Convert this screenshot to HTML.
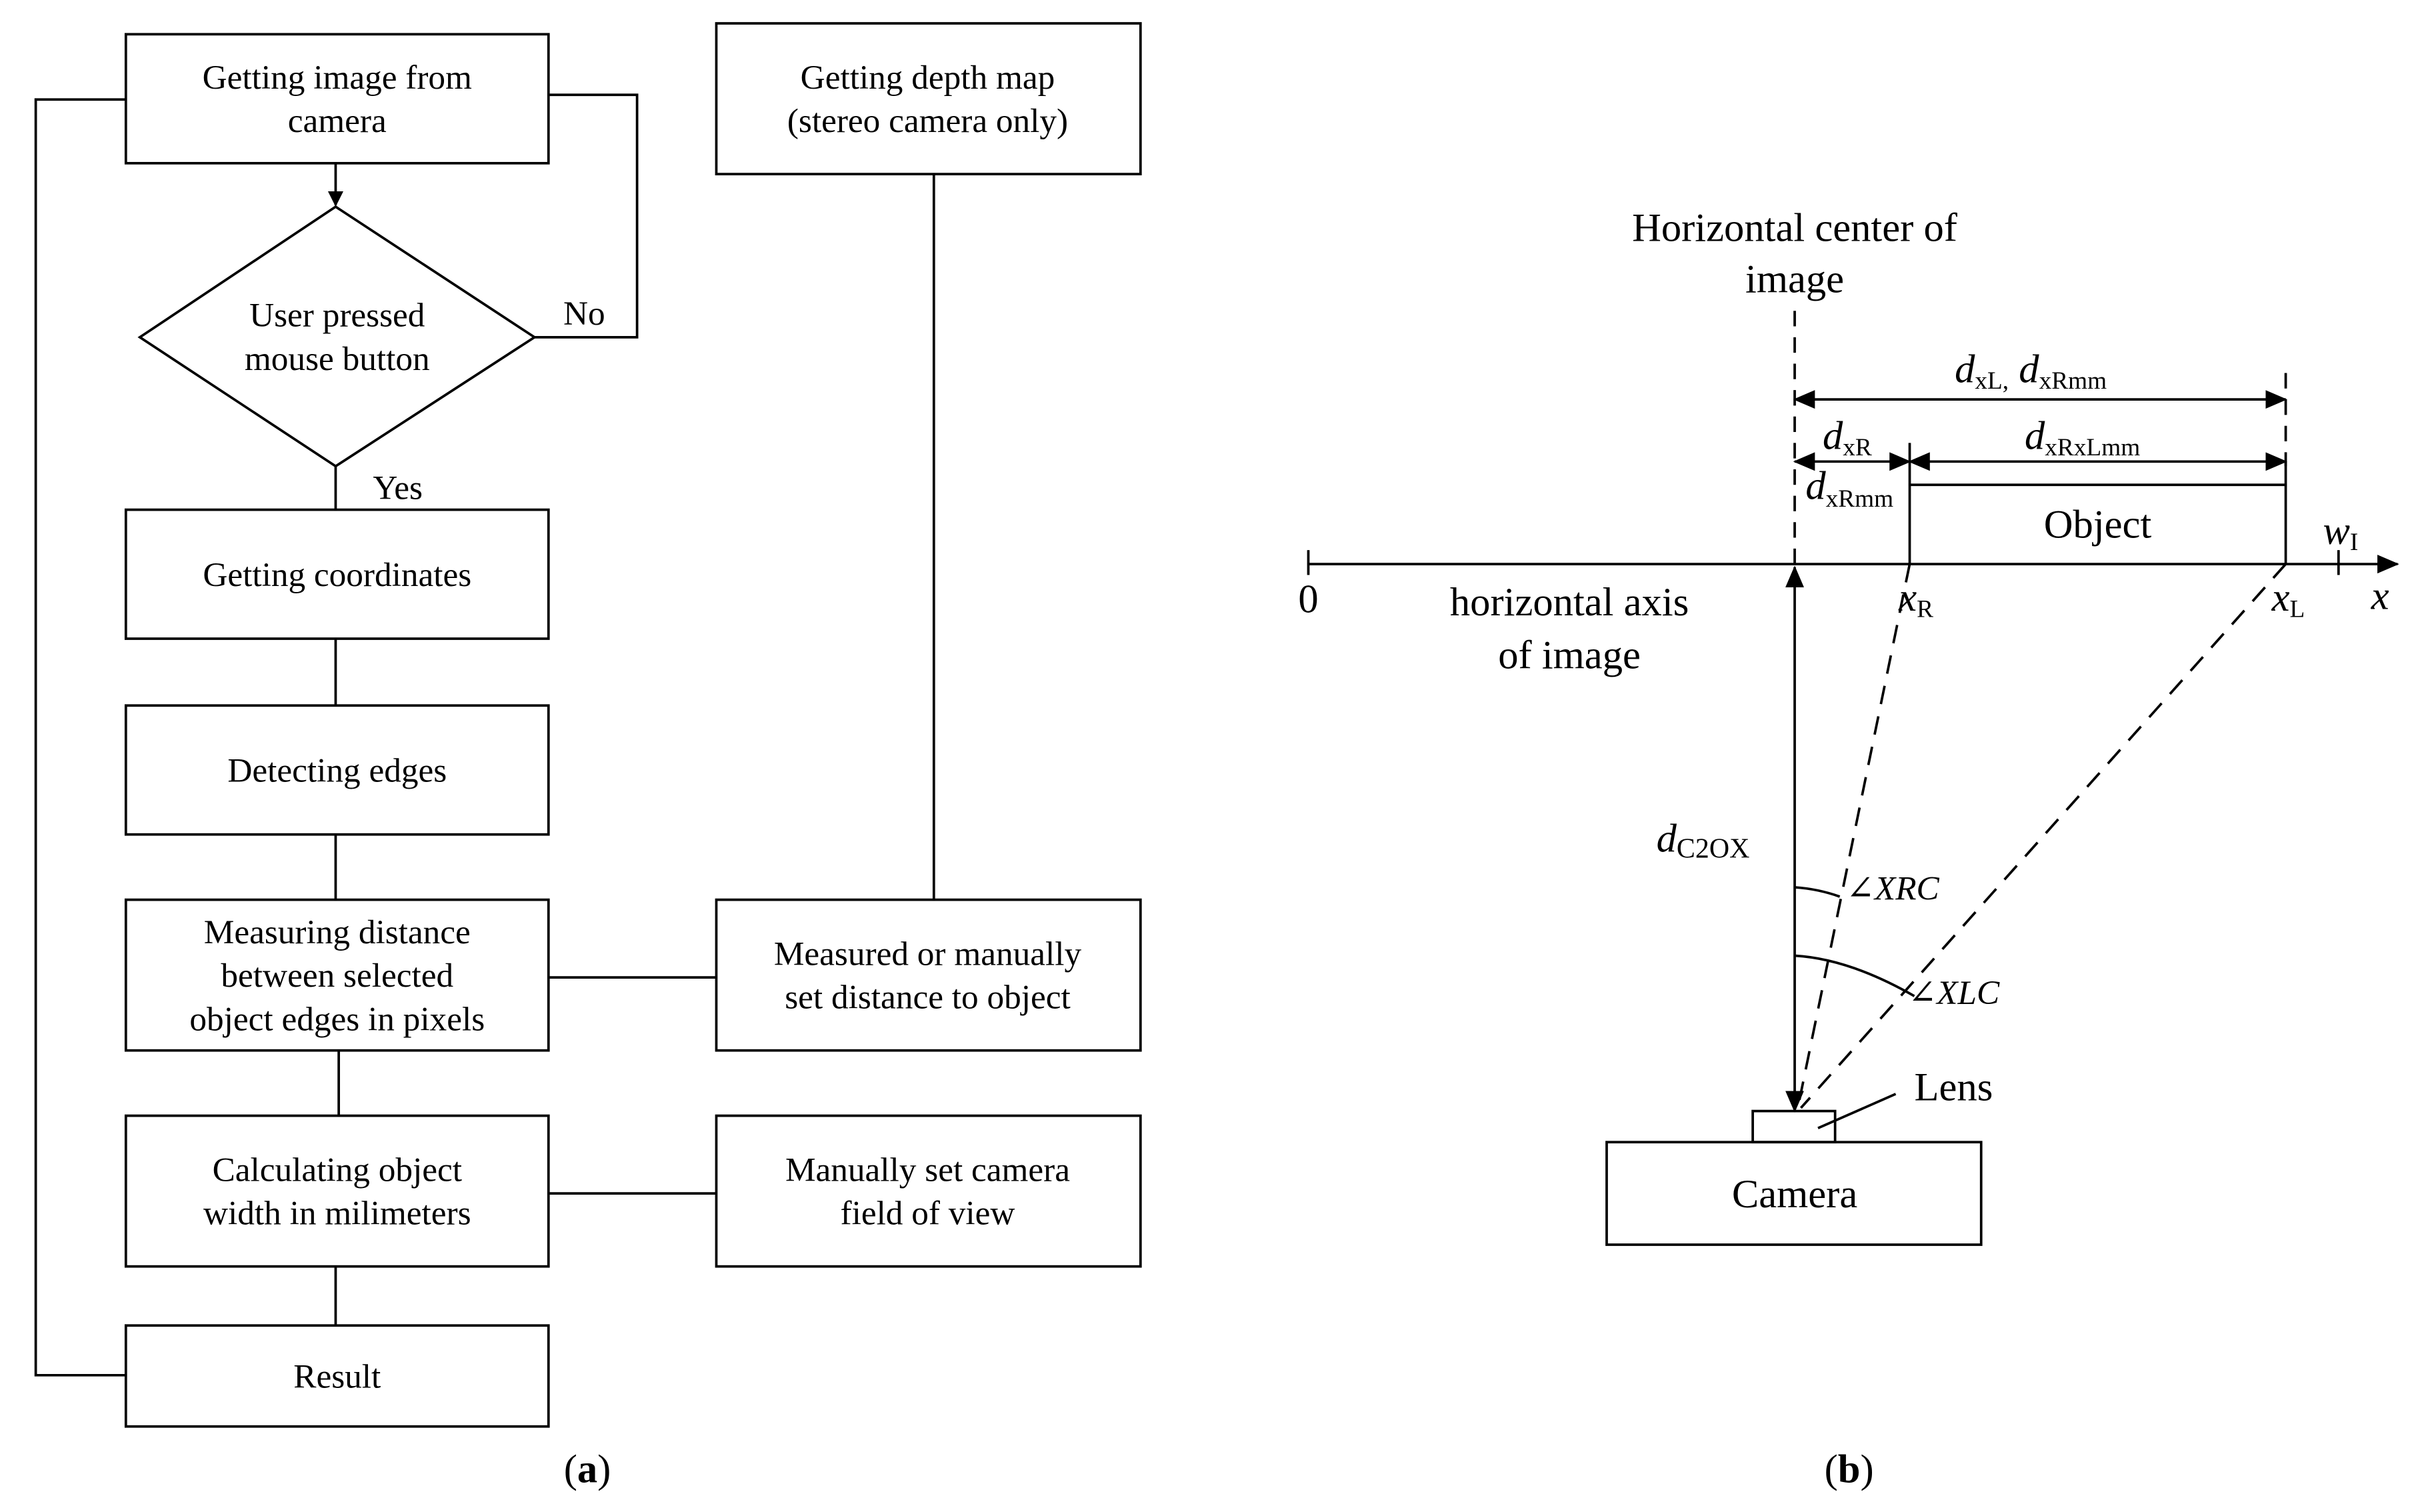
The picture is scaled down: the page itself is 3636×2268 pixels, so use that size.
<!DOCTYPE html>
<html><head><style>html,body{margin:0;padding:0;background:#fff}svg{display:block}svg text{font-family:"Liberation Serif","DejaVu Serif",serif}</style></head>
<body>
<svg width="3636" height="2268" viewBox="0 0 1560 973" xmlns="http://www.w3.org/2000/svg" style="font-family:'Liberation Serif',serif">
<defs>
<marker id="ah" markerWidth="10" markerHeight="10" refX="9" refY="5" orient="auto" markerUnits="userSpaceOnUse"><path d="M0,0 L10,5 L0,10 z" fill="#000"/></marker>
<marker id="ah2" markerWidth="14" markerHeight="12" refX="13" refY="6" orient="auto-start-reverse" markerUnits="userSpaceOnUse"><path d="M0,0 L14,6 L0,12 z" fill="#000"/></marker>
</defs>
<g fill="none" stroke="#000" stroke-width="1.6">
<rect x="81" y="22" width="272" height="83"/>
<rect x="461" y="15" width="273" height="97"/>
<polygon points="216,133 344,217 216,300 90,217"/>
<rect x="81" y="328" width="272" height="83"/>
<rect x="81" y="454" width="272" height="83"/>
<rect x="81" y="579" width="272" height="97"/>
<rect x="81" y="718" width="272" height="97"/>
<rect x="81" y="853" width="272" height="65"/>
<rect x="461" y="579" width="273" height="97"/>
<rect x="461" y="718" width="273" height="97"/>
<line x1="216" y1="105" x2="216" y2="132" marker-end="url(#ah)"/>
<polyline points="344,217 410,217 410,61 353,61"/>
<polyline points="81,64 23,64 23,885 81,885"/>
<line x1="216" y1="300" x2="216" y2="328"/>
<line x1="216" y1="411" x2="216" y2="454"/>
<line x1="216" y1="537" x2="216" y2="579"/>
<line x1="218" y1="676" x2="218" y2="718"/>
<line x1="216" y1="815" x2="216" y2="853"/>
<line x1="601" y1="112" x2="601" y2="579"/>
<line x1="353" y1="629" x2="461" y2="629"/>
<line x1="353" y1="768" x2="461" y2="768"/>
</g>
<g font-size="22" text-anchor="middle" fill="#000">
<text x="217" y="57">Getting image from</text><text x="217" y="85">camera</text>
<text x="597" y="57">Getting depth map</text><text x="597" y="85">(stereo camera only)</text>
<text x="217" y="210">User pressed</text><text x="217" y="238">mouse button</text>
<text x="376" y="209">No</text><text x="256" y="321">Yes</text>
<text x="217" y="377">Getting coordinates</text>
<text x="217" y="503">Detecting edges</text>
<text x="217" y="607">Measuring distance</text><text x="217" y="635">between selected</text><text x="217" y="663">object edges in pixels</text>
<text x="597" y="621">Measured or manually</text><text x="597" y="649">set distance to object</text>
<text x="217" y="760">Calculating object</text><text x="217" y="788">width in milimeters</text>
<text x="597" y="760">Manually set camera</text><text x="597" y="788">field of view</text>
<text x="217" y="893">Result</text>
<text x="378" y="954" font-size="26">(<tspan font-weight="bold">a</tspan>)</text>
<text x="1190" y="954" font-size="26">(<tspan font-weight="bold">b</tspan>)</text>
</g>
<g fill="none" stroke="#000" stroke-width="1.6">
<line x1="842" y1="363" x2="1543" y2="363" marker-end="url(#ah2)"/>
<line x1="842" y1="354" x2="842" y2="370"/>
<line x1="1505" y1="354" x2="1505" y2="370"/>
<line x1="1155" y1="200" x2="1155" y2="363" stroke-dasharray="10,7"/>
<line x1="1471" y1="240" x2="1471" y2="300" stroke-dasharray="10,7"/>
<line x1="1155" y1="257" x2="1471" y2="257" marker-start="url(#ah2)" marker-end="url(#ah2)"/>
<line x1="1155" y1="297" x2="1229" y2="297" marker-start="url(#ah2)" marker-end="url(#ah2)"/>
<line x1="1229" y1="297" x2="1471" y2="297" marker-start="url(#ah2)" marker-end="url(#ah2)"/>
<line x1="1229" y1="285" x2="1229" y2="363"/>
<line x1="1471" y1="297" x2="1471" y2="363"/>
<line x1="1229" y1="312" x2="1471" y2="312"/>
<line x1="1155" y1="365" x2="1155" y2="715" marker-start="url(#ah2)" marker-end="url(#ah2)"/>
<line x1="1229" y1="363" x2="1157" y2="713" stroke-dasharray="12,8"/>
<line x1="1471" y1="363" x2="1159" y2="713" stroke-dasharray="12,8"/>
<path d="M1155,571 Q1170,572 1184,577"/>
<path d="M1155,615 Q1190,617 1232,641"/>
<rect x="1128" y="715" width="53" height="20"/>
<rect x="1034" y="735" width="241" height="66"/>
<line x1="1170" y1="726" x2="1220" y2="704"/>
</g>
<g fill="#000" font-size="26">
<text x="1155" y="155" text-anchor="middle">Horizontal center of</text>
<text x="1155" y="188" text-anchor="middle">image</text>
<text x="842" y="394" text-anchor="middle">0</text>
<text x="1010" y="396" text-anchor="middle">horizontal axis</text>
<text x="1010" y="430" text-anchor="middle">of image</text>
<text x="1350" y="346" text-anchor="middle">Object</text>
<text x="1155" y="777" text-anchor="middle">Camera</text>
<text x="1232" y="708">Lens</text>
<text x="1258" y="246" font-style="italic">d<tspan font-size="16" font-style="normal" dy="4">xL,</tspan><tspan dy="-4"> d</tspan><tspan font-size="16" font-style="normal" dy="4">xRmm</tspan></text>
<text x="1173" y="289" font-style="italic">d<tspan font-size="16" font-style="normal" dy="4">xR</tspan></text>
<text x="1303" y="289" font-style="italic">d<tspan font-size="16" font-style="normal" dy="4">xRxLmm</tspan></text>
<text x="1162" y="321" font-style="italic">d<tspan font-size="16" font-style="normal" dy="5">xRmm</tspan></text>
<text x="1222" y="393" font-style="italic">x<tspan font-size="16" font-style="normal" dy="4">R</tspan></text>
<text x="1462" y="393" font-style="italic">x<tspan font-size="16" font-style="normal" dy="4">L</tspan></text>
<text x="1526" y="392" font-style="italic">x</text>
<text x="1495" y="350" font-style="italic">w<tspan font-size="16" font-style="normal" dy="4">I</tspan></text>
<text x="1066" y="548" font-style="italic">d<tspan font-size="18" font-style="normal" dy="4">C2OX</tspan></text>
<text x="1188" y="579" font-style="italic" font-size="22">∠XRC</text>
<text x="1228" y="646" font-style="italic" font-size="22">∠XLC</text>
</g>
</svg>
</body></html>
